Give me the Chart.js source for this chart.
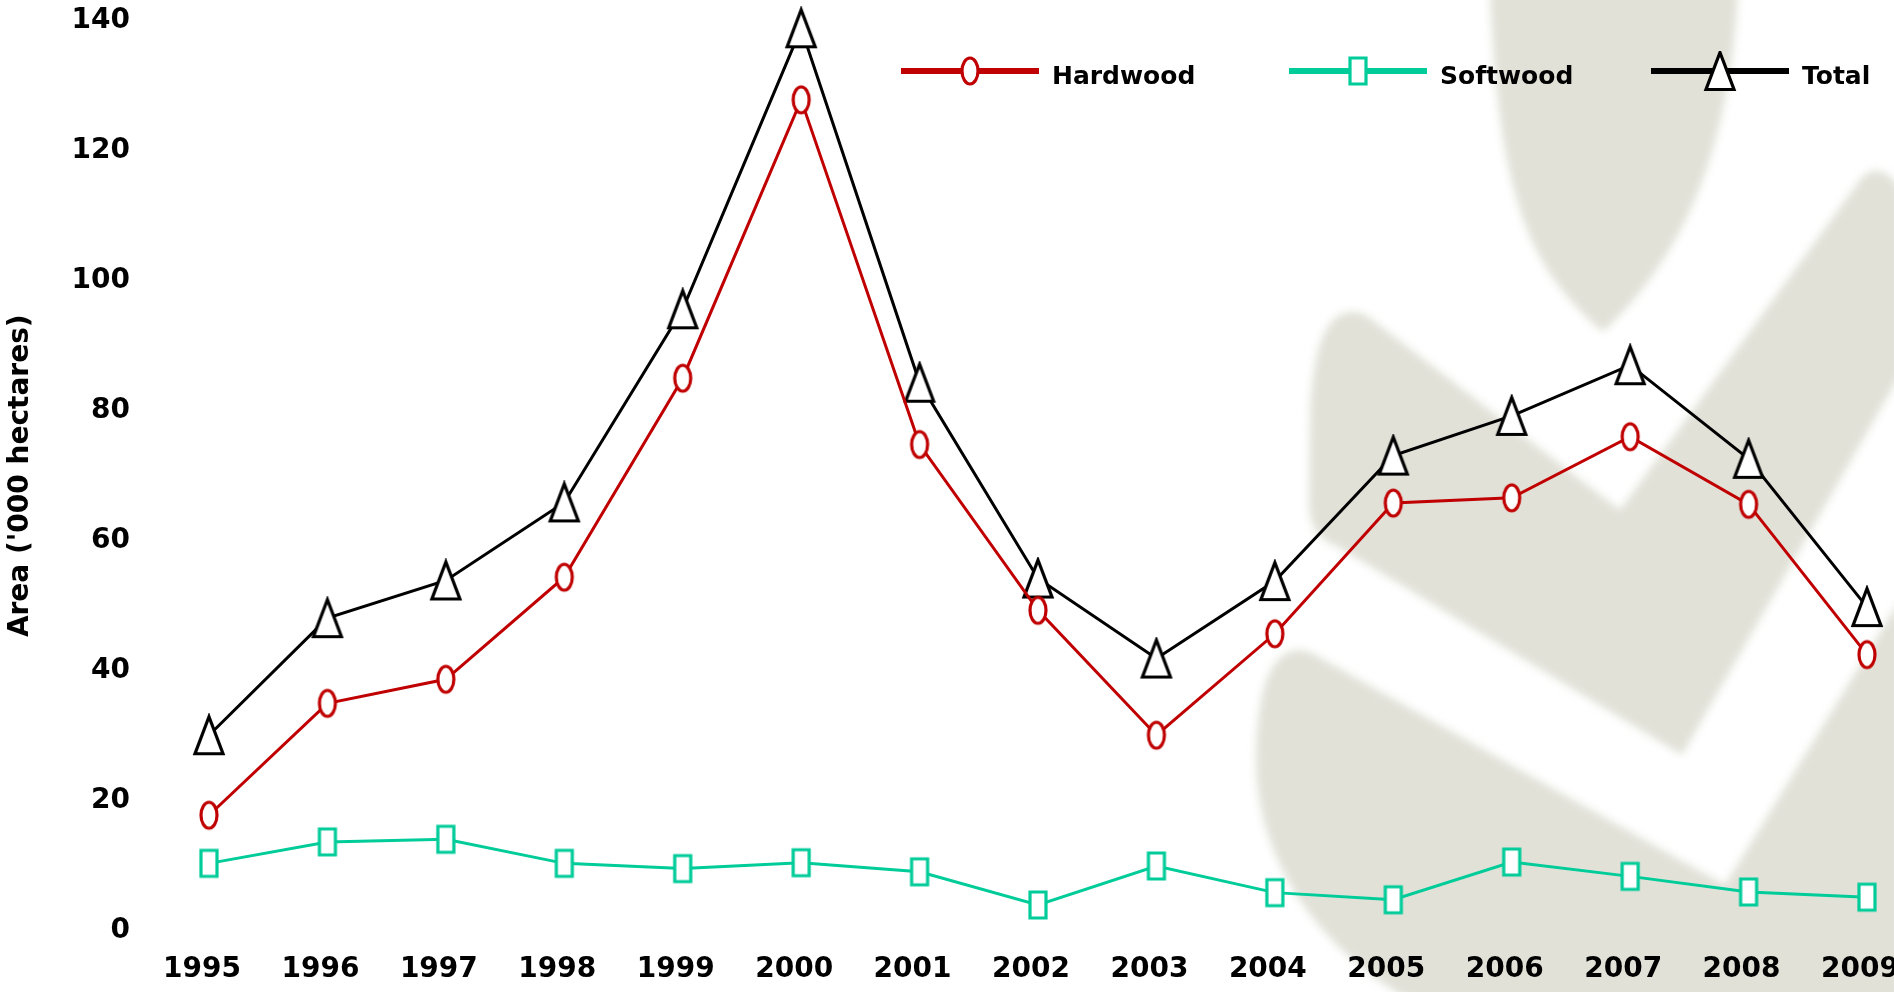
<!DOCTYPE html>
<html>
<head>
<meta charset="utf-8">
<title>Area ('000 hectares)</title>
<script src="https://cdn.jsdelivr.net/npm/chart.js@4.4.1/dist/chart.umd.min.js"></script>
<style>
  html, body { margin: 0; padding: 0; background: #fff; overflow: hidden; }
  #wrap { position: relative; width: 1894px; height: 992px; }
  #chart { display: block; }
  .leg { position: absolute; top: 51px; display: flex; align-items: center;
         font: bold 25px "DejaVu Sans", Verdana, sans-serif; color: #000; white-space: nowrap; }
  .leg canvas { margin-right: 13px; }
  .leg span { padding-top: 5px; }
</style>
</head>
<body>
<div id="wrap">
  <canvas id="chart" width="1894" height="992"></canvas>
  <div id="legend"></div>
</div>
<script>
const years = ["1995", "1996", "1997", "1998", "1999", "2000", "2001", "2002",
               "2003", "2004", "2005", "2006", "2007", "2008", "2009"];
const hardwood = [17.8, 35.0, 38.7, 54.4, 85.0, 127.8, 74.8, 49.3, 30.1, 45.7, 65.8, 66.6, 76.0, 65.6, 42.5];
const softwood = [10.4, 13.7, 14.1, 10.4, 9.6, 10.5, 9.1, 4.0, 10.0, 5.9, 4.8, 10.6, 8.4, 6.0, 5.2];
const total    = [30.1, 48.1, 53.9, 65.9, 95.6, 138.8, 84.3, 54.2, 41.9, 53.8, 73.1, 79.2, 87.0, 72.6, 49.8];
const yTicks = [0, 20, 40, 60, 80, 100, 120, 140];

const FONT = "'DejaVu Sans', Verdana, sans-serif";
const RED = "#c00000", TEAL = "#00cc99", BLACK = "#000000";

// hollow markers, narrow like the original
function marker(kind, color) {
  const c = document.createElement("canvas");
  if (kind === "tri") { c.width = 34; c.height = 44; } else { c.width = 24; c.height = 34; }
  const g = c.getContext("2d");
  g.lineWidth = 3.2;
  g.strokeStyle = color;
  g.fillStyle = "#fff";
  g.beginPath();
  if (kind === "ellipse") g.ellipse(12, 17, 8, 13, 0, 0, Math.PI * 2);
  else if (kind === "rect") g.rect(4, 4, 16, 26);
  else { g.moveTo(17, 3.5); g.lineTo(31, 40.5); g.lineTo(3, 40.5); g.closePath(); }
  g.fill();
  g.stroke();
  return c;
}

const series = [
  { name: "Hardwood", data: hardwood, color: RED, mk: marker("ellipse", RED), left: 901 },
  { name: "Softwood", data: softwood, color: TEAL, mk: marker("rect", TEAL), left: 1289 },
  { name: "Total", data: total, color: BLACK, mk: marker("tri", BLACK), left: 1651 }
];

/* ===== watermark leaves behind the plot ===== */
const watermark = {
  id: "watermark",
  beforeDraw(chart) {
    const ctx = chart.ctx;
    ctx.save();
    ctx.fillStyle = "#fff";
    ctx.fillRect(0, 0, chart.width, chart.height);
    ctx.filter = "blur(4px)";
    ctx.fillStyle = "#e1e1d8";

    ctx.beginPath();
    ctx.moveTo(1490, -10);
    ctx.lineTo(1738, -10);
    ctx.bezierCurveTo(1730, 140, 1690, 250, 1603, 332);
    ctx.bezierCurveTo(1530, 270, 1498, 200, 1490, -10);
    ctx.closePath();
    ctx.fill();

    ctx.beginPath();
    ctx.moveTo(1352, 312);
    ctx.bezierCurveTo(1325, 312, 1312, 350, 1310, 420);
    ctx.lineTo(1309, 500);
    ctx.bezierCurveTo(1309, 530, 1320, 540, 1340, 548);
    ctx.lineTo(1682, 755);
    ctx.lineTo(1900, 375);
    ctx.lineTo(1900, 190);
    ctx.bezierCurveTo(1890, 168, 1870, 165, 1860, 180);
    ctx.lineTo(1620, 510);
    ctx.lineTo(1370, 318);
    ctx.bezierCurveTo(1362, 312, 1356, 312, 1352, 312);
    ctx.closePath();
    ctx.fill();

    ctx.beginPath();
    ctx.moveTo(1300, 650);
    ctx.bezierCurveTo(1270, 650, 1257, 690, 1256, 760);
    ctx.bezierCurveTo(1256, 860, 1320, 950, 1410, 1000);
    ctx.lineTo(1900, 1000);
    ctx.lineTo(1900, 600);
    ctx.lineTo(1725, 885);
    ctx.lineTo(1310, 652);
    ctx.closePath();
    ctx.fill();

    ctx.restore();
  }
};

/* ===== chart ===== */
const tickFont = { family: FONT, weight: "bold", size: 28 };

new Chart(document.getElementById("chart"), {
  type: "line",
  data: {
    labels: years,
    datasets: series.map(s => ({
      label: s.name,
      data: s.data,
      borderColor: s.color,
      backgroundColor: s.color,
      borderWidth: 3,
      tension: 0,
      fill: false,
      pointStyle: s.mk,
      pointRadius: 10,
      pointHoverRadius: 10,
      clip: false
    }))
  },
  options: {
    responsive: false,
    animation: false,
    events: [],
    layout: { padding: { left: 0, right: 27, top: 20.5, bottom: 0 } },
    plugins: { legend: { display: false }, tooltip: { enabled: false } },
    scales: {
      x: {
        offset: false,
        grid: { display: false, drawTicks: false },
        border: { display: false },
        ticks: { color: "#000", font: tickFont, padding: 22, maxRotation: 0, autoSkip: false, labelOffset: -7 },
        afterFit(s) { s.height = 61; s.paddingLeft = 0; s.paddingRight = 0; }
      },
      y: {
        min: 0,
        max: 140,
        grid: { display: false, drawTicks: false },
        border: { display: false },
        afterBuildTicks(s) { s.ticks = yTicks.map(v => ({ value: v })); },
        ticks: { color: "#000", font: tickFont, padding: 79 },
        title: {
          display: true,
          text: "Area ('000 hectares)",
          color: "#000",
          font: { family: FONT, weight: "bold", size: 28 },
          padding: { top: 4, bottom: 0 }
        },
        afterFit(s) { s.width = 209; s.paddingTop = 0; s.paddingBottom = 0; }
      }
    }
  },
  plugins: [watermark]
});

/* ===== legend ===== */
const legend = document.getElementById("legend");
series.forEach(s => {
  const item = document.createElement("div");
  item.className = "leg";
  item.style.left = s.left + "px";
  const c = document.createElement("canvas");
  c.width = 138; c.height = 44;
  const g = c.getContext("2d");
  g.strokeStyle = s.color;
  g.lineWidth = 6;
  g.beginPath(); g.moveTo(0, 20); g.lineTo(138, 20); g.stroke();
  g.drawImage(s.mk, 69 - s.mk.width / 2, 20 - s.mk.height / 2);
  const t = document.createElement("span");
  t.textContent = s.name;
  item.appendChild(c);
  item.appendChild(t);
  legend.appendChild(item);
});
</script>
</body>
</html>
